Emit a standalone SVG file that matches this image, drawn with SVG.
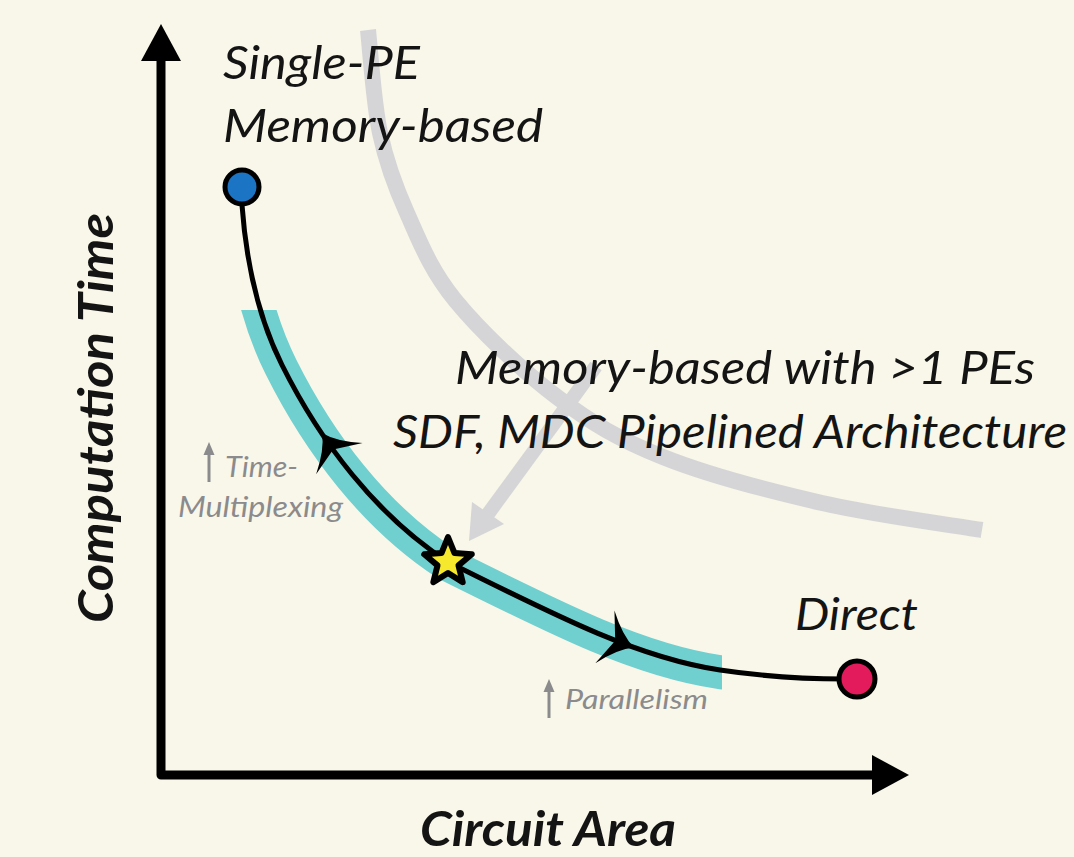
<svg xmlns="http://www.w3.org/2000/svg" width="1074" height="857" viewBox="0 0 1074 857">
<defs>
<style>
.t{font-family:Lato,"Liberation Sans",sans-serif;font-style:italic;fill:#141414}
.b{font-weight:bold}
.s{fill:#8b8b8d}
.ax{stroke:#000;stroke-width:9;fill:none;stroke-linejoin:round}
.gr{stroke:#d5d5d7;fill:none}
</style>
<clipPath id="bandClip"><rect x="0" y="308" width="723" height="549"/></clipPath>
<path id="main" d="M242,205 C246,260 257.4,315.8 282,365 C320.4,441.9 375.9,515.1 448,562 C564.2,620.1 640.9,658.2 720,670 C761.5,676.2 803,679 845,679"/>
<path id="head" d="M0,0 Q-15,7 -31,28 L-20,0 L-31,-28 Q-15,-7 0,0Z"/>
</defs>
<rect width="1074" height="857" fill="#f9f7e9"/>

<g id="axes">
<path class="ax" d="M161,58 V775 H875"/>
<polygon points="161,24 141,61 181,61"/>
<polygon points="909,775 872,755 872,795"/>
<text class="t b" transform="translate(113,418) rotate(-90)" text-anchor="middle" font-size="47" textLength="410" lengthAdjust="spacingAndGlyphs">Computation Time</text>
<text class="t b" x="420" y="846" font-size="47" textLength="256" lengthAdjust="spacingAndGlyphs">Circuit Area</text>
</g>

<g id="tradeoff-bound">
<path class="gr" stroke-width="16" d="M368,30 C370,47.2 373.5,102.5 380,133 C386.5,163.5 394.5,185.2 407,213 C419.5,240.8 430,269.3 455,300 C480,330.7 522.3,370.8 557,397 C591.7,423.2 618.8,439.3 663,457 C707.2,474.7 768.8,490.8 822,503 C875.2,515.2 955.3,525.5 982,530"/>
</g>

<g id="band">
<use href="#main" clip-path="url(#bandClip)" stroke="#70cfcf" stroke-width="34" fill="none" transform="translate(-1,2)"/>
</g>

<g id="connectors">
<use href="#main" stroke="#000" stroke-width="5" fill="none"/>
<use href="#head" transform="translate(322,433) rotate(-124)"/>
<use href="#head" transform="translate(634,647.5) rotate(20)"/>
<path class="gr" stroke-width="14" d="M596,366 L488,514"/>
<polygon points="469,541 504,524 472,502" fill="#d5d5d7"/>
</g>

<g id="node-single-pe">
<circle cx="242" cy="187" r="17" fill="#1b74c4" stroke="#000" stroke-width="5"/>
<text class="t" x="223" y="79" font-size="47" textLength="197" lengthAdjust="spacingAndGlyphs">Single-PE</text>
<text class="t" x="223" y="142" font-size="47" textLength="320" lengthAdjust="spacingAndGlyphs">Memory-based</text>
</g>

<g id="node-multi-pe">
<polygon points="448,537 454.5,553.1 471.8,554.3 458.5,565.4 462.7,582.2 448,573 433.3,582.2 437.5,565.4 424.2,554.3 441.5,553.1" fill="#f6e82c" stroke="#000" stroke-width="6" stroke-linejoin="round"/>
<text class="t" x="455" y="384" font-size="46" textLength="580" lengthAdjust="spacingAndGlyphs">Memory-based with &gt;1 PEs</text>
<text class="t" x="393" y="448" font-size="46" textLength="674" lengthAdjust="spacingAndGlyphs">SDF, MDC Pipelined Architecture</text>
</g>

<g id="node-direct">
<circle cx="857" cy="679" r="18" fill="#e31b5c" stroke="#000" stroke-width="5"/>
<text class="t" x="795" y="630" font-size="45" textLength="123" lengthAdjust="spacingAndGlyphs">Direct</text>
</g>

<g id="label-time-multiplexing">
<line x1="209" y1="482" x2="209" y2="452" stroke="#8b8b8d" stroke-width="3"/>
<polygon points="209,442 203.5,455 214.5,455" fill="#8b8b8d"/>
<text class="t s" x="225" y="477" font-size="29" textLength="73" lengthAdjust="spacingAndGlyphs">Time-</text>
<text class="t s" x="178" y="517" font-size="29" textLength="165" lengthAdjust="spacingAndGlyphs">Multiplexing</text>
</g>

<g id="label-parallelism">
<line x1="549" y1="718" x2="549" y2="689" stroke="#8b8b8d" stroke-width="3"/>
<polygon points="549,679 543.5,692 554.5,692" fill="#8b8b8d"/>
<text class="t s" x="565" y="709" font-size="27" textLength="143" lengthAdjust="spacingAndGlyphs">Parallelism</text>
</g>
</svg>
